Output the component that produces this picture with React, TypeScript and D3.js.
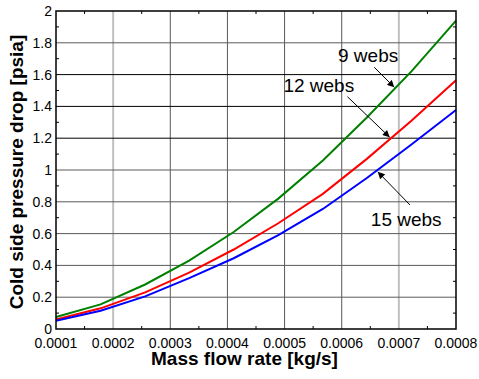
import React from 'react';
import * as d3 from 'd3';

// mass flow rate [kg/s] sample points
const FLOW = [0.0001, 0.000178, 0.000256, 0.000333, 0.000411, 0.000489, 0.000567, 0.000644, 0.000722, 0.0008];

// cold side pressure drop [psia]
const WEBS_9 = [0.075, 0.155, 0.28, 0.43, 0.61, 0.82, 1.06, 1.33, 1.62, 1.94];
const WEBS_12 = [0.06, 0.13, 0.23, 0.355, 0.5, 0.665, 0.85, 1.07, 1.31, 1.565];
const WEBS_15 = [0.052, 0.115, 0.205, 0.32, 0.445, 0.59, 0.755, 0.95, 1.16, 1.377];

const SERIES = [
  { name: '9 webs', values: WEBS_9, color: '#008000' },
  { name: '12 webs', values: WEBS_12, color: '#ff0000' },
  { name: '15 webs', values: WEBS_15, color: '#0000ff' },
];

const X_TICKS = [0.0001, 0.0002, 0.0003, 0.0004, 0.0005, 0.0006, 0.0007, 0.0008];
const Y_TICKS = [0, 0.2, 0.4, 0.6, 0.8, 1, 1.2, 1.4, 1.6, 1.8, 2];

// annotation labels: text anchor and arrow (from -> tip), in data units
const NOTES = [
  { label: '9 webs', tx: 0.0005935, ty: 1.679, fx: 0.000657, fy: 1.646, px: 0.000692, py: 1.52 },
  { label: '12 webs', tx: 0.000498, ty: 1.492, fx: 0.00061, fy: 1.461, px: 0.000684, py: 1.206 },
  { label: '15 webs', tx: 0.000651, ty: 0.648, fx: 0.0007195, fy: 0.78, px: 0.000663, py: 0.989 },
];

const W = 479;
const H = 379;
const M = { left: 56, right: 23, top: 11, bottom: 50 };
const FONT = "'Liberation Sans', Arial, Helvetica, sans-serif";

// the exported picture shows a few grid lines darker / lighter than the rest
const gridStyle = (v: number, axis: 'x' | 'y') => {
  if (axis === 'y') {
    return [1.2, 1.4, 1.6].some(t => Math.abs(t - v) < 1e-9)
      ? { stroke: '#000', w: 1 }
      : { stroke: '#5a5a5a', w: 1 };
  }
  return [0.0002, 0.0007].some(t => Math.abs(t - v) < 1e-12)
    ? { stroke: '#c0c0c0', w: 2 }
    : { stroke: '#5a5a5a', w: 1 };
};

const App: React.FC = () => {
  const x = d3.scaleLinear().domain([0.0001, 0.0008]).range([M.left, W - M.right]);
  const y = d3.scaleLinear().domain([0, 2]).range([H - M.bottom, M.top]);

  const line = d3.line<number>()
    .x((_, i) => x(FLOW[i]))
    .y(d => y(d));

  const xMinor = d3.range(0.00015, 0.0008, 0.0001);
  const yMinor = d3.range(0.1, 2, 0.2);

  const x0 = x.range()[0], x1 = x.range()[1];
  const y0 = y.range()[0], y1 = y.range()[1];

  return (
    <svg width={W} height={H} style={{ position: 'absolute', left: 0, top: 0, background: '#fff', fontFamily: FONT }}>
      <defs>
        <marker id="arr" viewBox="0 0 10 10" refX="10" refY="5" markerWidth="9" markerHeight="7" orient="auto" markerUnits="userSpaceOnUse">
          <path d="M0,0 L10,5 L0,10 z" fill="#000" />
        </marker>
      </defs>

      {/* grid */}
      {X_TICKS.slice(1, -1).map(t => {
        const g = gridStyle(t, 'x');
        return <line key={`gx${t}`} x1={x(t)} x2={x(t)} y1={y0} y2={y1} stroke={g.stroke} strokeWidth={g.w} />;
      })}
      {Y_TICKS.slice(1, -1).map(t => {
        const g = gridStyle(t, 'y');
        return <line key={`gy${t}`} x1={x0} x2={x1} y1={y(t)} y2={y(t)} stroke={g.stroke} strokeWidth={g.w} />;
      })}

      {/* minor ticks */}
      {xMinor.map(t => (
        <g key={`mx${t}`} stroke="#000" strokeWidth={1}>
          <line x1={x(t)} x2={x(t)} y1={y0} y2={y0 - 3} />
          <line x1={x(t)} x2={x(t)} y1={y1} y2={y1 + 3} />
        </g>
      ))}
      {yMinor.map(t => (
        <g key={`my${t}`} stroke="#000" strokeWidth={1}>
          <line x1={x0} x2={x0 + 3} y1={y(t)} y2={y(t)} />
          <line x1={x1} x2={x1 - 3} y1={y(t)} y2={y(t)} />
        </g>
      ))}

      {/* curves */}
      {SERIES.map(s => (
        <path key={s.name} d={line(s.values) || ''} fill="none" stroke={s.color} strokeWidth={2} />
      ))}

      {/* frame */}
      <rect x={x0} y={y1} width={x1 - x0} height={y0 - y1} fill="none" stroke="#000" strokeWidth={1.5} />

      {/* tick labels */}
      {X_TICKS.map(t => (
        <text key={`tx${t}`} x={x(t)} y={y0 + 19} textAnchor="middle" fontSize={14} fill="#000">
          {t.toFixed(4)}
        </text>
      ))}
      {Y_TICKS.map(t => (
        <text key={`ty${t}`} x={x0 - 4} y={y(t)} dy="0.35em" textAnchor="end" fontSize={14} fill="#000">
          {d3.format('~g')(t)}
        </text>
      ))}

      {/* annotations */}
      {NOTES.map(n => (
        <g key={n.label}>
          <line x1={x(n.fx)} y1={y(n.fy)} x2={x(n.px)} y2={y(n.py)} stroke="#000" strokeWidth={1} markerEnd="url(#arr)" />
          <text x={x(n.tx)} y={y(n.ty)} fontSize={19} fill="#000">{n.label}</text>
        </g>
      ))}

      {/* axis titles */}
      <text x={244.5} y={365} textAnchor="middle" fontSize={19} fontWeight="bold">Mass flow rate [kg/s]</text>
      <text transform={`translate(22.5, ${(y0 + y1) / 2 + 2}) rotate(-90)`} textAnchor="middle" fontSize={19} fontWeight="bold">
        Cold side pressure drop [psia]
      </text>
    </svg>
  );
};

export default App;
